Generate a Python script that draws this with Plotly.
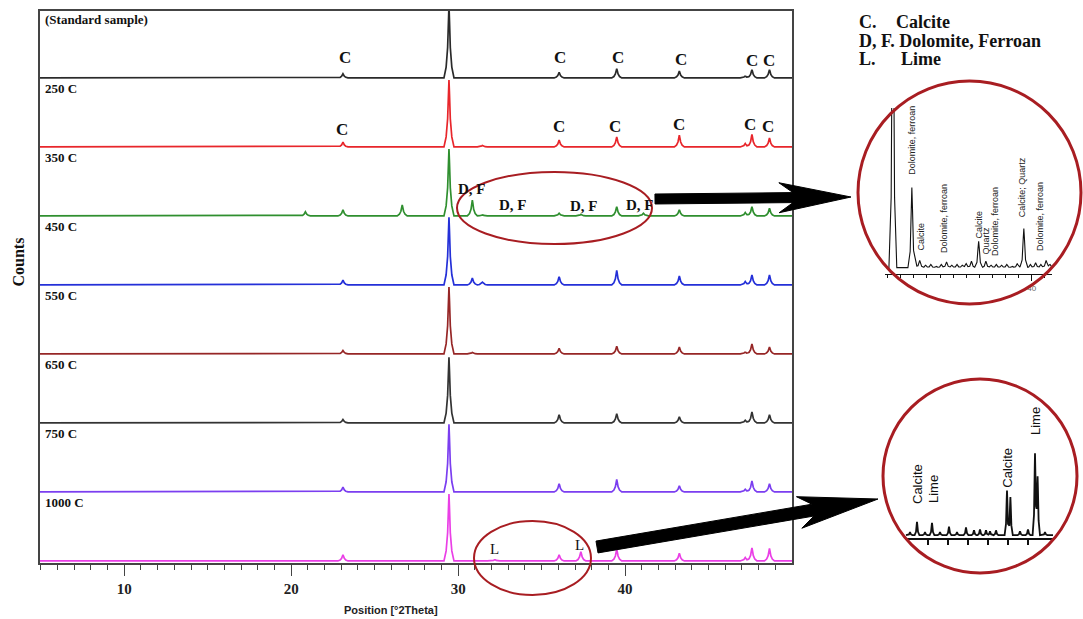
import numpy as np
import plotly.graph_objects as go

W, H = 1083, 619


def px(x):
    return x / W


def py(y):
    return 1 - y / H


# ---------------- data ----------------
SAMPLES = ["(Standard sample)", "250 C", "350 C", "450 C", "550 C", "650 C", "750 C", "1000 C"]
COLORS = ["#2a2a2a", "#e8262b", "#2f8f2f", "#2430d8", "#962626", "#333333", "#7b3ef0", "#ea3fe6"]

PEAK_POS = [20.85, 23.1, 26.65, 29.45, 30.85, 31.45, 32.2, 36.05, 37.35, 39.5, 41.1, 43.25, 47.2, 47.6, 48.65]
H_STD = [0.0, 0.06, 0.0, 1.05, 0.0, 0.01, 0.0, 0.08, 0.0, 0.135, 0.0, 0.10, 0.03, 0.12, 0.12]
H_250 = [0.0, 0.07, 0.0, 0.97, 0.0, 0.02, 0.0, 0.10, 0.0, 0.145, 0.0, 0.17, 0.05, 0.18, 0.13]
H_350 = [0.06, 0.09, 0.16, 0.97, 0.23, 0.02, 0.0, 0.04, 0.02, 0.135, 0.04, 0.09, 0.05, 0.135, 0.11]
H_450 = [0.0, 0.07, 0.0, 0.98, 0.10, 0.04, 0.0, 0.12, 0.0, 0.21, 0.0, 0.13, 0.05, 0.145, 0.145]
H_550 = [0.0, 0.05, 0.0, 0.97, 0.02, 0.01, 0.0, 0.08, 0.0, 0.11, 0.0, 0.10, 0.03, 0.145, 0.10]
H_650 = [0.0, 0.05, 0.0, 0.95, 0.0, 0.01, 0.0, 0.12, 0.0, 0.135, 0.0, 0.09, 0.04, 0.16, 0.12]
H_750 = [0.0, 0.07, 0.0, 0.98, 0.0, 0.01, 0.0, 0.12, 0.0, 0.18, 0.0, 0.09, 0.04, 0.16, 0.12]
H_1000 = [0.0, 0.09, 0.0, 0.97, 0.0, 0.01, 0.02, 0.09, 0.135, 0.17, 0.0, 0.11, 0.05, 0.19, 0.18]
HEIGHTS = [H_STD, H_250, H_350, H_450, H_550, H_650, H_750, H_1000]
OFFSETS = [7, 6, 5, 4, 3, 2, 1, 0]

X_TICKS = [10, 20, 30, 40]
X_MINOR = list(range(5, 50))

# peak labels in the main chart
C_LABEL_X_STD = [23.22, 36.09, 39.56, 43.34, 47.59, 48.60]
C_LABEL_Y_STD = [0.30, 0.29, 0.29, 0.26, 0.25, 0.25]
C_LABEL_X_250 = [23.04, 36.03, 39.38, 43.22, 47.47, 48.55]
C_LABEL_Y_250 = [0.25, 0.29, 0.29, 0.33, 0.33, 0.30]
DF_LABEL_X = [30.80, 33.29, 37.53, 40.88]
DF_LABEL_Y = [0.39, 0.16, 0.15, 0.16]
L_LABEL_X = [32.20, 37.29]
L_LABEL_Y = [0.17, 0.23]

# inset 1 (350 C zoom): 2theta positions and relative heights
IN1_POS = [29.4, 30.85, 31.1, 31.45, 31.9, 32.3, 32.7, 33.1, 33.5, 33.9, 34.3, 34.7, 35.0, 35.4,
           35.95, 36.5, 36.9, 37.3, 37.7, 38.1, 38.5, 38.9, 39.4, 39.9, 40.3, 40.7, 41.1, 41.4]
IN1_H = [2.2, 0.50, 0.03, 0.045, 0.015, 0.02, 0.01, 0.02, 0.035, 0.015, 0.02, 0.015, 0.025, 0.04,
         0.165, 0.04, 0.015, 0.02, 0.015, 0.02, 0.01, 0.025, 0.245, 0.02, 0.03, 0.02, 0.045, 0.02]
IN1_LABELS = ["Dolomite, ferroan", "Calcite", "Dolomite, ferroan", "Calcite", "Quartz",
              "Dolomite, ferroan", "Calcite; Quartz", "Dolomite, ferroan"]

# inset 2 (1000 C zoom)
IN2_POS = [31.1, 31.45, 31.85, 32.2, 32.6, 33.05, 33.45, 33.9, 34.3, 34.6, 34.9, 35.1, 35.4,
           35.95, 36.12, 36.6, 37.0, 37.35, 37.48, 37.85]
IN2_H = [0.03, 0.14, 0.03, 0.13, 0.03, 0.09, 0.03, 0.08, 0.05, 0.06, 0.05, 0.04, 0.05,
         0.47, 0.40, 0.04, 0.06, 0.86, 0.62, 0.03]
IN2_LABELS = ["Calcite", "Lime", "Calcite", "Lime"]

LEGEND_ABBR = ["C.", "D, F. Dolomite, Ferroan", "L."]
LEGEND_NAME = ["Calcite", "", "Lime"]

# ---------------- style ----------------
SERIF = "Liberation Serif, Times New Roman, serif"
SANS = "Liberation Sans, Arial, sans-serif"
NARROW = "Liberation Sans Narrow, Liberation Sans, Arial, sans-serif"
RED = "#a81d22"

MAIN_DX = [-0.3, -0.17, -0.08, -0.03, 0.0, 0.03, 0.08, 0.17, 0.3]
MAIN_FR = [0.0, 0.15, 0.42, 0.8, 1.0, 0.8, 0.42, 0.15, 0.0]
IN1_DX = [-0.3, -0.13, -0.05, 0.0, 0.05, 0.13, 0.3]
IN1_FR = [0.0, 0.2, 0.72, 1.0, 0.72, 0.2, 0.0]
IN2_DX = [-0.12, -0.05, -0.015, 0.0, 0.015, 0.05, 0.12]
IN2_FR = [0.0, 0.25, 0.8, 1.0, 0.8, 0.25, 0.0]


def profile(pos, hts, dxs, frs, lo, hi):
    xs = [lo, hi]
    for p, h in zip(pos, hts):
        if h > 0:
            xs += [p + d for d in dxs]
    xs = np.unique(np.array(xs))
    ys = np.zeros_like(xs)
    for p, h in zip(pos, hts):
        if h > 0:
            ys += np.interp(xs, [p + d for d in dxs], [h * f for f in frs], left=0, right=0)
    return xs, ys


fig = go.Figure()
XLO, XHI = 4.95, 50.0
for name, col, hts, off in zip(SAMPLES, COLORS, HEIGHTS, OFFSETS):
    xs, ys = profile(PEAK_POS, hts, MAIN_DX, MAIN_FR, XLO, XHI)
    fig.add_trace(go.Scatter(x=xs, y=ys + off, mode="lines", name=name,
                             line=dict(color=col, width=1.7), hoverinfo="skip",
                             xaxis="x", yaxis="y"))

xs1, ys1 = profile(IN1_POS, IN1_H, IN1_DX, IN1_FR, 28.9, 41.5)
fig.add_trace(go.Scatter(x=xs1, y=ys1, mode="lines", line=dict(color="#111", width=1.1),
                         xaxis="x2", yaxis="y2", hoverinfo="skip"))
xs2, ys2 = profile(IN2_POS, IN2_H, IN2_DX, IN2_FR, 30.9, 38.25)
fig.add_trace(go.Scatter(x=xs2, y=ys2, mode="lines", line=dict(color="#111", width=1.8),
                         xaxis="x3", yaxis="y3", hoverinfo="skip"))

ann = []
for name, off in zip(SAMPLES, OFFSETS):
    ann.append(dict(x=5.12, y=off + 0.84, xref="x", yref="y", text="<b>%s</b>" % name,
                    showarrow=False, xanchor="left", yanchor="middle",
                    font=dict(family=SERIF, size=13, color="#111")))
for xs_, ys_, off in [(C_LABEL_X_STD, C_LABEL_Y_STD, 7), (C_LABEL_X_250, C_LABEL_Y_250, 6)]:
    for xv, yv in zip(xs_, ys_):
        ann.append(dict(x=xv, y=off + yv, xref="x", yref="y", text="<b>C</b>", showarrow=False,
                        xanchor="center", yanchor="middle",
                        font=dict(family=SERIF, size=17, color="#111")))
for xv, yv in zip(DF_LABEL_X, DF_LABEL_Y):
    ann.append(dict(x=xv, y=5 + yv, xref="x", yref="y", text="<b>D, F</b>", showarrow=False,
                    xanchor="center", yanchor="middle",
                    font=dict(family=SERIF, size=15, color="#111")))
for xv, yv in zip(L_LABEL_X, L_LABEL_Y):
    ann.append(dict(x=xv, y=0 + yv, xref="x", yref="y", text="L", showarrow=False,
                    xanchor="center", yanchor="middle",
                    font=dict(family=SERIF, size=15, color="#111")))

ann.append(dict(x=px(17.5), y=py(262), xref="paper", yref="paper", text="<b>Counts</b>",
                textangle=-90, showarrow=False, xanchor="center", yanchor="middle",
                font=dict(family=SERIF, size=16, color="#111")))
ann.append(dict(x=px(391), y=py(610), xref="paper", yref="paper", text="<b>Position [°2Theta]</b>",
                showarrow=False, xanchor="center", yanchor="middle",
                font=dict(family=NARROW, size=11, color="#222")))

for i, (ab, nm) in enumerate(zip(LEGEND_ABBR, LEGEND_NAME)):
    yy = [22, 41, 59][i]
    ann.append(dict(x=px(857), y=py(yy), xref="paper", yref="paper", text="<b>%s</b>" % ab,
                    showarrow=False, xanchor="left", yanchor="middle",
                    font=dict(family=SERIF, size=18, color="#111")))
    if nm:
        ann.append(dict(x=px([894, 0, 899][i]), y=py(yy), xref="paper", yref="paper",
                        text="<b>%s</b>" % nm, showarrow=False, xanchor="left", yanchor="middle",
                        font=dict(family=SERIF, size=18, color="#111")))

IN1_LBL_XY = [(911.7, 140), (920, 236.5), (944, 219), (978, 224.5), (985, 240.5),
              (995, 222), (1021.7, 187.5), (1040, 217)]
for t, (lx, ly) in zip(IN1_LABELS, IN1_LBL_XY):
    ann.append(dict(x=px(lx), y=py(ly), xref="paper", yref="paper", text=t, textangle=-90,
                    showarrow=False, xanchor="center", yanchor="middle",
                    font=dict(family=SANS, size=9, color="#222")))
IN2_LBL_XY = [(917, 484), (933, 489), (1006.7, 468), (1035, 421)]
for t, (lx, ly) in zip(IN2_LABELS, IN2_LBL_XY):
    ann.append(dict(x=px(lx), y=py(ly), xref="paper", yref="paper", text=t, textangle=-90,
                    showarrow=False, xanchor="center", yanchor="middle",
                    font=dict(family=SANS, size=13, color="#111")))


def arrow_path(x0, y0, x1, y1, shaft, head_len, head_half, notch):
    dx, dy = x1 - x0, y1 - y0
    L = (dx * dx + dy * dy) ** 0.5
    ux, uy = dx / L, dy / L
    nx, ny = -uy, ux
    base = L - head_len
    join = base + notch
    s = shaft / 2
    pts = [
        (x0 + nx * s, y0 + ny * s),
        (x0 + ux * join + nx * s, y0 + uy * join + ny * s),
        (x0 + ux * base + nx * head_half, y0 + uy * base + ny * head_half),
        (x1, y1),
        (x0 + ux * base - nx * head_half, y0 + uy * base - ny * head_half),
        (x0 + ux * join - nx * s, y0 + uy * join - ny * s),
        (x0 - nx * s, y0 - ny * s),
    ]
    return "M " + " L ".join("%.5f,%.5f" % (px(a), py(b)) for a, b in pts) + " Z"


shapes = [
    dict(type="circle", xref="paper", yref="paper", x0=px(457), x1=px(652), y0=py(244), y1=py(172),
         line=dict(color=RED, width=2)),
    dict(type="circle", xref="paper", yref="paper", x0=px(474), x1=px(591), y0=py(595), y1=py(521),
         line=dict(color=RED, width=2)),
    dict(type="circle", xref="paper", yref="paper", x0=px(858), x1=px(1081), y0=py(304), y1=py(81),
         line=dict(color=RED, width=3)),
    dict(type="circle", xref="paper", yref="paper", x0=px(883), x1=px(1077), y0=py(573), y1=py(379),
         line=dict(color=RED, width=3)),
    dict(type="path", xref="paper", yref="paper", path=arrow_path(655, 199, 851, 197, 10, 72, 15, 14),
         fillcolor="#000", line=dict(color="#000", width=1)),
    dict(type="path", xref="paper", yref="paper", path=arrow_path(597, 547, 878, 499, 12, 80, 16, 14),
         fillcolor="#000", line=dict(color="#000", width=1)),
]

fig.update_layout(
    width=W, height=H, template="none",
    margin=dict(l=0, r=0, t=0, b=0),
    paper_bgcolor="white", plot_bgcolor="white",
    showlegend=False,
    annotations=ann, shapes=shapes,
    xaxis=dict(domain=[px(40), px(792)], range=[XLO, XHI], anchor="y",
               showline=True, linecolor="#444", linewidth=1.6, mirror=True,
               showgrid=False, zeroline=False, automargin=False,
               tickmode="array", tickvals=X_TICKS, ticktext=["<b>%d</b>" % t for t in X_TICKS],
               ticks="outside", ticklen=11, tickwidth=1.4, tickcolor="#444",
               tickfont=dict(family=SERIF, size=15, color="#222"),
               minor=dict(tickmode="array", tickvals=X_MINOR, ticks="outside", ticklen=5,
                          tickwidth=1.2, tickcolor="#444", showgrid=False)),
    yaxis=dict(domain=[py(563), py(11)], range=[-0.03, 7.97], anchor="x",
               showline=True, linecolor="#444", linewidth=1.6, mirror=True,
               showgrid=False, zeroline=False, showticklabels=False, ticks="", automargin=False),
    xaxis2=dict(domain=[px(885), px(1052)], range=[28.8, 41.55], anchor="y2",
                showline=True, linecolor="#111", linewidth=1, showgrid=False, zeroline=False,
                tickmode="array", tickvals=[30, 40], ticktext=["", "40"], ticks="outside",
                ticklen=6, tickwidth=1, tickcolor="#111", automargin=False,
                tickfont=dict(family=SANS, size=8, color="#666"),
                minor=dict(tickmode="array", tickvals=list(range(29, 42)), ticks="outside",
                           ticklen=3, tickwidth=1, tickcolor="#111", showgrid=False)),
    yaxis2=dict(domain=[py(274), py(108)], range=[-0.04, 1.0], anchor="x2", visible=False),
    xaxis3=dict(domain=[px(905), px(1054)], range=[30.85, 38.3], anchor="y3",
                showline=True, linecolor="#111", linewidth=1.8, showgrid=False, zeroline=False,
                tickmode="array", tickvals=[32, 33, 34, 35, 36, 37], showticklabels=False,
                ticks="outside", ticklen=5, tickwidth=1.5, tickcolor="#111", automargin=False),
    yaxis3=dict(domain=[py(538), py(440)], range=[-0.03, 1.0], anchor="x3", visible=False),
)

fig.write_html("out.html", config={"displayModeBar": False},
               post_script="document.body.style.margin='0';")
